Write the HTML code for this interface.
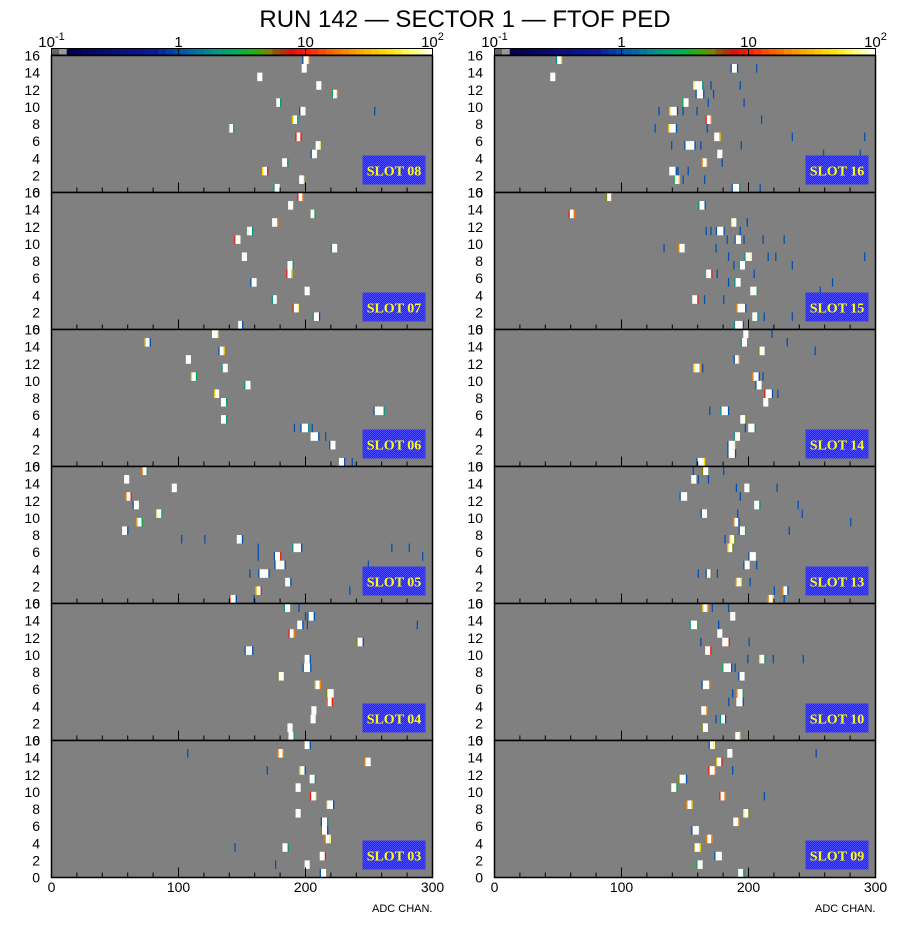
<!DOCTYPE html>
<html><head><meta charset="utf-8"><style>
html,body{margin:0;padding:0;background:#fff;}
svg{display:block;font-family:"Liberation Sans",sans-serif;}
</style></head><body>
<svg id="chart" width="919" height="933" viewBox="0 0 919 933" xmlns="http://www.w3.org/2000/svg">
<defs>
<pattern id="chk" width="2" height="2" patternUnits="userSpaceOnUse">
<rect width="2" height="2" fill="#2828d0"/><rect width="1" height="1" fill="#4a4aff"/><rect x="1" y="1" width="1" height="1" fill="#4a4aff"/>
</pattern>
</defs>
<text x="465" y="27" text-anchor="middle" font-size="24" fill="#000">RUN 142 — SECTOR 1 — FTOF PED</text>
<g id="plots"></g>
</svg>
<script>
// hits: [channel row, ADC start, bins, left edge count, right edge count]; core bins saturated (100)
const slot08 = [[15,197.4,6,1,20],[14,197,4,0,0],[13,162,4,0,0],[12,208.5,4,0,0],[11,220.7,5,3,20],[10,177,4,0,2],[9,195,5,1,0],[8,189.5,5,40,2],[7,140,4,0,3],[6,192,5,9,9],[5,208,4,0,70],[4,204,5,1,0],[3,181.6,5,0,2],[2,165.7,5,40,9],[1,195,4,0,70],[0,174.7,5,2,0]];
const lone08 = [[9,254]];
const slot07 = [[15,193.5,5,9,20],[14,186.3,4,0,0],[13,204,4,0,3],[12,173.7,5,0,20],[11,153.9,5,70,2],[10,143.8,5,9,0],[9,219.9,5,2,0],[8,149.9,4,0,0],[7,185.8,5,0,2],[6,184.8,5,9,40],[5,156.5,5,1,0],[4,199.3,4,0,0],[3,173.4,4,2,0],[2,189.8,5,9,70],[1,205.6,6,2,1],[0,147,4,0,1]];
const lone07 = [];
const slot06 = [[15,126.4,5,0,70],[14,73.3,5,40,1],[13,131.4,5,1,40],[12,105.8,4,0,0],[11,133.8,5,2,0],[10,109.7,5,40,3],[9,151.7,5,2,0],[8,128,4,40,0],[7,133.5,5,0,2],[6,253.5,9,1,2],[5,133.5,5,0,2],[4,196,7,1,2],[3,204,7,0,1],[2,218.6,5,1,0],[0,226.3,5,0,1]];
const lone06 = [[4,190.8],[4,204.8],[3,215.4],[0,236.3]];
const slot05 = [[15,70.9,5,20,3],[14,57.2,4,0,0],[13,94.7,4,0,0],[12,58.2,5,20,9],[11,63.8,5,1,0],[10,82.5,5,70,3],[9,66.9,5,40,3],[8,55.6,5,0,1],[7,145.9,5,0,1],[6,189.5,8,2,1],[5,175,6,1,9],[4,175.5,9,1,1],[3,162.8,9,1,1],[2,184,5,0,1],[1,160.7,5,40,9],[0,140,6,9,1]];
const lone05 = [[7,102],[7,120.3],[6,162.3],[5,162.3],[6,267.5],[6,281.2],[5,291.8],[4,249],[3,155.7],[1,234.4],[0,159]];
const slot04 = [[15,182.9,5,2,0],[14,201.5,6,1,1],[13,193.5,5,0,1],[12,186.6,5,9,20],[11,240,6,5,1],[10,152,7,1,1],[9,199.3,5,0,1],[8,197.7,7,1,1],[7,177.9,5,5,0],[6,207.2,5,40,20],[5,216.2,6,5,0],[4,216.7,5,20,9],[3,204.6,4,0,0],[2,204,4,0,0],[1,185.8,4,0,0],[0,186.6,5,0,2]];
const lone04 = [[15,194.3],[14,199.5],[13,201],[13,287.5]];
const slot03 = [[15,199.3,5,0,1],[14,177.9,5,20,20],[13,246.3,5,20,0],[12,195.3,5,70,1],[11,203.3,5,0,2],[10,192.2,4,0,0],[9,203.5,5,9,70],[8,216.7,6,70,1],[7,192.2,4,0,0],[6,212,6,1,2],[5,212,6,5,1],[4,215,5,20,70],[3,181.9,5,0,2],[2,211.2,5,0,9],[1,199.3,4,0,0],[0,211.2,5,1,0]];
const lone03 = [[14,106.8],[12,169.4],[3,144],[1,176]];
const slot16 = [[15,48.3,5,2,40],[14,185.9,6,1,1],[13,43.9,4,0,0],[12,156.5,8,70,2],[11,158.3,7,1,1],[10,147.8,5,3,0],[9,137.6,7,40,1],[8,166.2,5,9,20],[7,136.8,7,40,1],[6,173,5,0,40],[5,149.4,9,1,1],[4,175.4,4,0,0],[3,163,5,20,20],[2,137.6,6,0,1],[1,141,5,3,40],[0,186.7,7,1,2]];
const lone16 = [[14,206],[12,170],[12,193],[11,172],[10,167.8],[10,196],[9,129],[9,148],[9,159],[8,209.8],[7,126],[7,167],[6,234],[6,291],[5,139],[5,162],[5,193.8],[4,258.6],[4,287.5],[3,178.8],[2,144],[2,152],[1,148],[1,165],[0,208.7]];
const slot15 = [[15,87.7,5,5,20],[14,160.4,6,2,1],[13,58.3,5,9,20],[12,186.4,4,70,0],[11,174.3,7,1,1],[10,189,5,1,0],[9,144.7,5,20,0],[8,196.7,6,2,70],[7,192.2,5,2,0],[6,166.7,5,0,9],[5,188.8,5,2,0],[4,201.4,6,0,3],[3,155.7,5,0,9],[2,190.4,8,20,1],[1,203,5,0,2],[0,188.5,8,2,1]];
const lone15 = [[12,198.5],[11,166.2],[11,170],[11,193],[10,182.7],[10,196],[10,211],[10,227.6],[9,133],[9,174],[8,183.8],[8,215],[8,221],[8,291],[7,188],[7,234],[6,174.9],[6,204],[5,183.8],[5,265.7],[4,256],[3,164.9],[3,180],[1,211.9],[1,234]];
const slot14 = [[15,195.9,4,0,0],[14,193.8,5,2,0],[13,207.7,5,5,0],[12,188.3,5,1,20],[11,156.5,6,40,20],[10,203,6,20,1],[9,205.3,5,1,0],[8,212.4,7,9,1],[7,211.6,4,0,0],[6,177.8,7,2,1],[5,193.5,5,0,5],[4,199.8,6,0,2],[3,188.3,5,2,0],[2,183.3,7,1,20],[1,183.3,7,1,1],[0,158.9,7,1,40]];
const lone14 = [[15,218],[14,230],[13,252],[11,163.5],[10,211],[8,222.6],[6,169],[4,197]];
const slot13 = [[15,163.3,5,5,0],[14,154.9,4,0,0],[13,196.7,4,0,0],[12,145.7,6,1,0],[11,204.5,5,0,2],[10,162.3,5,1,0],[9,188,5,20,1],[8,192.2,6,1,3],[7,184.8,5,40,5],[6,183.3,5,40,5],[5,199.8,6,1,0],[4,195.9,5,1,0],[3,166.2,5,1,5],[2,189.6,5,20,70],[1,226.6,5,20,1],[0,215,5,20,40]];
const lone13 = [[15,156],[15,180],[14,160],[14,168],[13,190],[13,222],[12,193],[11,238.6],[10,191],[10,241.8],[9,280],[8,231.6],[7,181],[4,206],[3,160],[3,175],[2,200.8],[1,219.8],[0,227.6]];
const slot10 = [[15,163.6,5,40,20],[14,185.6,4,0,0],[13,153.6,7,2,3],[12,175.4,4,0,0],[11,179.3,6,0,9],[10,165.9,5,0,9],[9,208.5,5,70,2],[8,179.3,8,3,1],[7,191.9,5,1,0],[6,163,7,1,20],[5,190.4,6,20,3],[4,190.4,6,0,1],[3,162.8,5,0,20],[2,177.5,5,2,1],[1,163,5,5,0],[0,189.6,4,0,70]];
const lone10 = [[15,171],[15,183.8],[13,176],[11,162],[11,200],[9,199],[9,219],[9,242.6],[8,189],[5,187],[4,184],[2,174]];
const slot09 = [[15,168.6,5,1,70],[14,183.3,4,0,0],[13,174.6,5,40,9],[12,168.3,6,9,20],[11,144.7,7,5,1],[10,139.2,5,0,3],[9,177,5,9,20],[8,151,5,20,40],[7,195.9,5,70,5],[6,188,5,0,20],[5,154.9,6,1,0],[4,166.7,5,20,20],[3,156.5,6,5,40],[2,173,6,1,0],[1,158.9,5,3,0],[0,191.9,5,0,2]];
const lone09 = [[14,252.8],[12,187],[9,212]];
const slotNames = ["08","07","06","05","04","03","16","15","14","13","10","09"];
const slotHits = [slot08,slot07,slot06,slot05,slot04,slot03,slot16,slot15,slot14,slot13,slot10,slot09];
const slotLone = [lone08,lone07,lone06,lone05,lone04,lone03,lone16,lone15,lone14,lone13,lone10,lone09];
const xTicks = [0,100,200,300];
const yTicks = [16,14,12,10,8,6,4,2];
const cbTicks = [0.1,1,10,100];
const cbTickLabels = [["10","-1"],["1",""],["10",""],["10","2"]];

const NS = "http://www.w3.org/2000/svg";
const g = document.getElementById('plots');
function mk(tag, attrs, parent){ const e=document.createElementNS(NS,tag); for(const k in attrs) e.setAttribute(k,attrs[k]); (parent||g).appendChild(e); return e; }
const colX0 = [51.5, 494.5], plotW = 381, tops=[55.5,192.5,329.5,466.5,603.5,740.5], panelH = 137, rowH = panelH/16;
const stops = [[0.333,[0,80,176]],[0.04,[0,0,80]],[0.27,[10,26,160]],[0.42,[0,144,144]],[0.49,[0,176,80]],[0.54,[48,176,0]],[0.57,[128,128,0]],[0.6,[160,64,0]],[0.63,[224,16,16]],[0.67,[255,32,0]],[0.73,[255,96,0]],[0.8,[255,160,0]],[0.88,[255,224,0]],[0.95,[255,255,128]],[1.0,[255,255,255]]].sort((a,b)=>a[0]-b[0]);
function pal(f){
  if(f<0.02) return "#666"; if(f<0.04) return "#999";
  for(let i=1;i<stops.length;i++){ if(f<=stops[i][0]){ const a=stops[i-1],b=stops[i],t=(f-a[0])/(b[0]-a[0]); const c=a[1].map((v,j)=>Math.round(v+(b[1][j]-v)*t)); return `rgb(${c})`; } }
  return "#fff";
}
function countColor(c){ const f=(Math.log10(c)+1)/3; return pal(Math.min(0.999,Math.max(0.041,f))); }
function xs(col, adc){ return colX0[col] + adc*plotW/300; }
const binW = plotW/300;

for(let col=0; col<2; col++){
  const x0 = colX0[col];
  // colorbar
  const cb = mk('g',{});
  
  
  const N=50;
  for(let i=0;i<N;i++){
    const r=mk('rect',{x:x0+i*plotW/N,y:48.5,width:plotW/N+0.3,height:6.5,fill:pal((i+0.5)/N)},cb);
    
    
  }
  mk('rect',{x:x0,y:48.5,width:plotW,height:6.5,fill:'none',stroke:'#000','stroke-width':1},cb);
  cbTicks.forEach((v,i)=>{
    const x = x0 + (Math.log10(v)+1)/3*plotW;
    mk('line',{x1:x,x2:x,y1:48.5,y2:55,stroke:'#000','stroke-width':1},cb);
    const t = mk('text',{x:x,y:47,'text-anchor':'middle','font-size':15,fill:'#000'},cb);
    
    
    t.textContent = cbTickLabels[i][0];
    if(cbTickLabels[i][1]){ const s=mk('tspan',{dy:-7,'font-size':11},t); s.textContent=cbTickLabels[i][1]; }
  });
  for(let p=0;p<6;p++){
    const idx = col*6+p, top = tops[p], bot = top+panelH;
    const pg = mk('g',{});
    
    
    mk('rect',{x:x0,y:top,width:plotW,height:panelH,fill:'#808080'},pg);
    slotHits[idx].forEach(h=>{
      const [row,adc,w,L,R]=h; const y = bot-(row+1)*rowH;
      let b=0;
      if(L){ const r=mk('rect',{x:xs(col,adc),y:y,width:binW,height:rowH,fill:countColor(L)},pg);   b=1; }
      const core = w-(L?1:0)-(R?1:0);
      const c=mk('rect',{x:xs(col,adc+b),y:y,width:core*binW,height:rowH,fill:countColor(100)},pg);
      
      
      if(R){ const r=mk('rect',{x:xs(col,adc+w-1),y:y,width:binW,height:rowH,fill:countColor(R)},pg);   }
    });
    slotLone[idx].forEach(h=>{
      const r=mk('rect',{x:xs(col,h[1]),y:bot-(h[0]+1)*rowH,width:binW,height:rowH,fill:countColor(1)},pg);
      
      
    });
    // ticks
    for(let v=0; v<=300; v+=20){
      const major = v%100===0, x=xs(col,v);
      mk('line',{x1:x,x2:x,y1:bot,y2:bot-(major?10:5),stroke:'#000','stroke-width':1},pg);
    }
    mk('rect',{x:x0,y:top,width:plotW,height:panelH,fill:'none',stroke:'#000','stroke-width':1.5},pg);
    // slot label box
    const bx = x0+plotW-70, by = top+100;
    const box=mk('rect',{x:bx,y:by,width:63,height:29,fill:'url(#chk)'},pg);
    
    
    const st=mk('text',{x:bx+31.5,y:by+20,'text-anchor':'middle','font-size':14,'font-weight':'bold','font-family':'Liberation Serif, serif',fill:'#ffff00'},pg);
    
    
    st.textContent='SLOT '+slotNames[idx];
    // y labels
    const lx = col===0? 40 : 483;
    yTicks.forEach(v=>{
      const t=mk('text',{x:lx,y:bot-v*rowH+5,'text-anchor':'end','font-size':14,fill:'#000'},pg);
      
      
      t.textContent=v;
    });
    const z=mk('text',{x:lx,y:bot+5,'text-anchor':'end','font-size':14,fill:'#000'},pg);
    
    
    z.textContent='0';
  }
  const bot = tops[5]+panelH;
  xTicks.forEach(v=>{
    const t=mk('text',{x:xs(col,v),y:892,'text-anchor':'middle','font-size':14,fill:'#000'});
    
    
    t.textContent=v;
  });
  const xt=mk('text',{x:x0+plotW,y:912,'text-anchor':'end','font-size':11,fill:'#000'});
  
  
  xt.textContent='ADC CHAN.';
}
</script>
</body></html>
